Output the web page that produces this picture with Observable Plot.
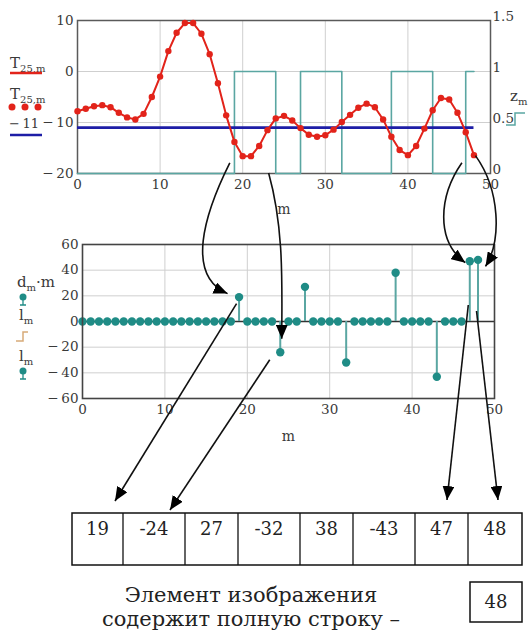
<!DOCTYPE html>
<html><head><meta charset="utf-8">
<script src="https://cdn.jsdelivr.net/npm/d3@7"></script>
<script src="https://cdn.jsdelivr.net/npm/@observablehq/plot@0.6"></script>
<style>
body{margin:0;background:#fff;}
#root{position:relative;width:531px;height:630px;overflow:hidden;background:#fff;}
#root > svg{position:absolute;left:0;}
</style></head><body><div id="root"></div>
<script>
// ---------- data ----------
const m = d3.range(0, 49);
const T25 = [-7.8,-7.3,-6.8,-6.6,-7.0,-8.1,-9.0,-9.4,-8.3,-5.0,-1.0,4.0,7.6,9.5,9.5,7.4,3.4,-2.3,-8.6,-13.8,
  -16.6,-16.6,-14.6,-11.5,-9.2,-8.7,-9.6,-11.1,-12.4,-12.8,-12.5,-11.4,-9.9,-8.5,-7.1,-6.3,-7.0,-9.4,-12.8,-15.4,
  -16.4,-14.6,-11.2,-7.6,-5.2,-5.5,-8.1,-11.9,-16.4];
const z = [0,0,0,0,0,0,0,0,0,0,0,0,0,0,0,0,0,0,0,1,1,1,1,1,0,0,0,1,1,1,1,1,0,0,0,0,0,0,1,1,1,1,1,0,0,0,0,1,1];
const dmm = [0,0,0,0,0,0,0,0,0,0,0,0,0,0,0,0,0,0,0,19,0,0,0,0,-24,0,0,27,0,0,0,0,-32,0,0,0,0,0,38,0,0,0,0,-43,0,0,0,47,48];
const level = -11;
const xTicks = [0,10,20,30,40,50];
const yTicksTop = [-20,-10,0,10];
const zTicks = [0,0.5,1,1.5];
const yTicksBottom = [-60,-40,-20,0,20,40,60];
const tableValues = [19,-24,27,-32,38,-43,47,48];
const answer = 48;
const captionLines = ["Элемент изображения", "содержит полную строку –"];

// ---------- styles ----------
const FONT = "DejaVu Serif";
const RED = "#e2231a", BLUE = "#1d1da6", TEAL = "#1f8c86", TEAL_L = "#5aa6a2", TAN = "#d7aa78";
const GRID = "#cfcfcf", FRAME = "#5a5a5a", TXT = "#3a3a3a";
const fmt = d => d < 0 ? "\u2212\u2009" + (-d) : String(d);
const zToY = d3.scaleLinear([0, 1.5], [-20, 10]);
const zFmt = d => String(Math.round(zToY.invert(d) * 10) / 10);
const root = d3.select("#root");

const topData = m.map((v, i) => ({m: v, T: T25[i], z: z[i]}));
const botData = m.map((v, i) => ({m: v, d: dmm[i]}));

// ---------- top chart ----------
const topPlot = Plot.plot({
  width: 531, height: 222,
  marginLeft: 77, marginRight: 41, marginTop: 20, marginBottom: 49,
  x: {domain: [0, 50]},
  y: {domain: [-20, 10]},
  style: {fontFamily: FONT, fontSize: "13.5px", color: TXT, background: "transparent"},
  marks: [
    Plot.gridX([10, 20, 30, 40], {stroke: GRID, strokeOpacity: 1}),
    Plot.gridY([-10, 0], {stroke: GRID, strokeOpacity: 1}),
    Plot.frame({stroke: FRAME, strokeWidth: 1.5}),
    Plot.line(topData, {x: "m", y: d => zToY(d.z), curve: "step-after", stroke: TEAL_L, strokeWidth: 1.6}),
    Plot.ruleY([level], {x1: 0, x2: 48, stroke: BLUE, strokeWidth: 2.6}),
    Plot.line(topData, {x: "m", y: "T", stroke: RED, strokeWidth: 2}),
    Plot.dot(topData, {x: "m", y: "T", r: 3.2, fill: RED}),
    Plot.axisX(xTicks, {tickSize: 0, tickPadding: 6, label: null}),
    Plot.axisY(yTicksTop, {anchor: "left", tickSize: 0, tickPadding: 4, tickFormat: fmt, label: null}),
    Plot.axisY(zTicks.map(zToY), {anchor: "right", tickSize: 0, tickPadding: 2, dy: -4, tickFormat: zFmt, label: null}),
    Plot.text(["m"], {frameAnchor: "bottom", dy: 40, text: d => d, fontSize: 14})
  ]
});
root.node().appendChild(topPlot);
d3.select(topPlot).style("top", "0px");

// ---------- bottom chart ----------
const BOT = 225;
const botPlot = Plot.plot({
  width: 531, height: 225,
  marginLeft: 82, marginRight: 37, marginTop: 19, marginBottom: 52,
  x: {domain: [0, 50]},
  y: {domain: [-60, 60]},
  style: {fontFamily: FONT, fontSize: "13.5px", color: TXT, background: "transparent"},
  marks: [
    Plot.gridX([10, 20, 30, 40], {stroke: GRID, strokeOpacity: 1}),
    Plot.gridY([-40, -20, 20, 40], {stroke: GRID, strokeOpacity: 1}),
    Plot.ruleY([0], {stroke: "#333", strokeWidth: 1.3}),
    Plot.ruleX(botData.filter(d => d.d !== 0), {x: "m", y1: 0, y2: "d", stroke: TEAL_L, strokeWidth: 2}),
    Plot.dot(botData, {x: "m", y: "d", r: 4.2, fill: TEAL}),
    Plot.frame({stroke: "#444", strokeWidth: 1.6}),
    Plot.axisX(xTicks, {tickSize: 0, tickPadding: 6, label: null}),
    Plot.axisY(yTicksBottom, {anchor: "left", tickSize: 0, tickPadding: 4, tickFormat: fmt, label: null}),
    Plot.text(["m"], {frameAnchor: "bottom", dy: 42, text: d => d, fontSize: 14})
  ]
});
root.node().appendChild(botPlot);
d3.select(botPlot).style("top", BOT + "px");

// ---------- overlay: legends, arrows, table, caption ----------
const svg = root.append("svg").attr("width", 531).attr("height", 630).style("top", "0px")
  .style("font-family", FONT).style("pointer-events", "none");
const defs = svg.append("defs");
defs.append("marker").attr("id", "ah").attr("markerUnits", "userSpaceOnUse")
  .attr("markerWidth", 15).attr("markerHeight", 12).attr("refX", 14).attr("refY", 6).attr("orient", "auto")
  .append("path").attr("d", "M0,0 L14,6 L0,12 Z").attr("fill", "#000");

function subText(x, y, main, sub, after) {
  const t = svg.append("text").attr("x", x).attr("y", y).attr("fill", TXT).attr("font-size", 15);
  t.append("tspan").text(main);
  t.append("tspan").attr("font-size", 10).attr("dy", 4).text(sub);
  if (after) t.append("tspan").attr("dy", -4).text(after);
}
// top legend
subText(10, 68, "T", "25,m");
svg.append("line").attr("x1", 10).attr("x2", 42).attr("y1", 73).attr("y2", 73).attr("stroke", RED).attr("stroke-width", 2.5);
subText(10, 99, "T", "25,m");
[12, 25, 38].forEach(x => svg.append("circle").attr("cx", x).attr("cy", 107).attr("r", 3.5).attr("fill", RED));
svg.append("text").attr("x", 9).attr("y", 128).attr("font-size", 13).attr("fill", TXT).text(fmt(level));
svg.append("line").attr("x1", 10).attr("x2", 42).attr("y1", 135).attr("y2", 135).attr("stroke", BLUE).attr("stroke-width", 2.5);
// z legend
subText(510, 101, "z", "m");
svg.append("path").attr("d", "M506,125 H515 V113 H525").attr("fill", "none").attr("stroke", TEAL_L).attr("stroke-width", 1.5);
// bottom legend
const pin = (x, y) => {
  svg.append("path").attr("d", `M${x},${y} V${y + 8} M${x - 3},${y + 8} H${x + 3}`).attr("stroke", TEAL).attr("stroke-width", 1.3);
  svg.append("circle").attr("cx", x).attr("cy", y).attr("r", 3.5).attr("fill", TEAL);
};
subText(17, 287, "d", "m", "\u00b7m");
pin(23, 297);
subText(19, 320, "l", "m");
svg.append("path").attr("d", "M16,341 H23 V332 H28").attr("fill", "none").attr("stroke", TAN).attr("stroke-width", 1.5);
subText(19, 361, "l", "m");
pin(23, 371);

// arrows from scales
const pt = (mv, yv) => [topPlot.scale("x").apply(mv), topPlot.scale("y").apply(yv)];
const pb = (mv, yv) => [botPlot.scale("x").apply(mv), botPlot.scale("y").apply(yv) + BOT];
const add = (p, dx, dy) => [p[0] + dx, p[1] + dy];
const curve = (s, c1, c2, e) => svg.append("path")
  .attr("d", `M${s} C${c1} ${c2} ${e}`).attr("fill", "none").attr("stroke", "#111").attr("stroke-width", 1.6).attr("marker-end", "url(#ah)");
const straight = (s, e) => svg.append("path")
  .attr("d", `M${s} L${e}`).attr("fill", "none").attr("stroke", "#111").attr("stroke-width", 1.6).attr("marker-end", "url(#ah)");

let s, e;
s = pt(18.5, -18); e = add(pb(19, 19), -11, -3); curve(s, add(s, -26, 52), add(e, -42, -18), e);
s = pt(23.2, -20); e = add(pb(24, -24), 2, -13); curve(s, add(s, 16, 57), add(e, 0, -50), e);
s = pt(46.6, -18); e = add(pb(47, 47), -4, 2); curve(s, add(s, -23, 33), add(e, -30, -22), e);
s = add(pt(48, -16.4), 2, 1); e = add(pb(48, 48), 8, 7); curve(s, add(s, 25, 35), add(e, 16, -26), e);

// table
const tableTop = 513, tableH = 52;
const cellX = [72, 123, 185, 238, 300, 353, 415, 468, 522];
const tg = svg.append("g");
tg.append("rect").attr("x", cellX[0]).attr("y", tableTop).attr("width", cellX[8] - cellX[0]).attr("height", tableH)
  .attr("fill", "none").attr("stroke", "#111").attr("stroke-width", 1.5);
cellX.slice(1, -1).forEach(x => tg.append("line").attr("x1", x).attr("x2", x).attr("y1", tableTop).attr("y2", tableTop + tableH).attr("stroke", "#111").attr("stroke-width", 1.3));
tableValues.forEach((v, i) => tg.append("text").attr("x", (cellX[i] + cellX[i + 1]) / 2).attr("y", tableTop + 22)
  .attr("text-anchor", "middle").attr("font-size", 18).attr("fill", "#222").text(String(v)));

straight(add(pb(19, 19), -2, 7), [115, tableTop - 12]);
straight(add(pb(24, -24), -10, 8), [170, tableTop - 3]);
straight(add(pb(47, 0), -1, -16), [447, tableTop - 13]);
straight(add(pb(48, 0), -1, -10), [498, tableTop - 13]);

// caption
captionLines.forEach((line, i) => svg.append("text").attr("x", 251).attr("y", 602 + i * 24)
  .attr("text-anchor", "middle").attr("font-size", 21).attr("fill", "#222").text(line));
svg.append("rect").attr("x", 470).attr("y", 582).attr("width", 52).attr("height", 40)
  .attr("fill", "none").attr("stroke", "#111").attr("stroke-width", 1.5);
svg.append("text").attr("x", 496).attr("y", 608).attr("text-anchor", "middle").attr("font-size", 18).attr("fill", "#222").text(String(answer));
</script></body></html>
